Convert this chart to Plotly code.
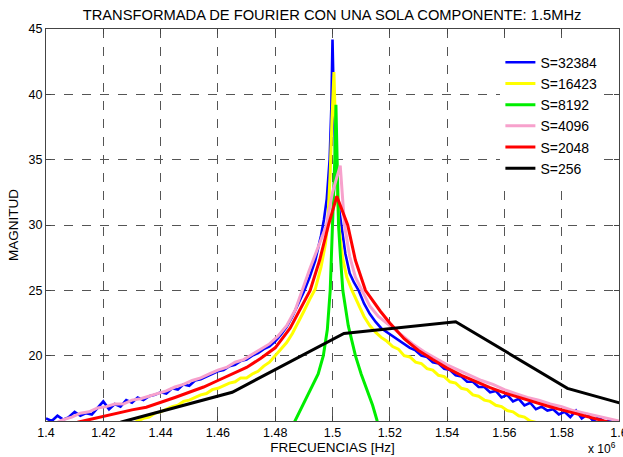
import plotly.graph_objects as go

# ---------------- data (frequency in MHz, magnitude) ----------------
blue_x = [1.400, 1.402, 1.404, 1.406, 1.408, 1.410, 1.412, 1.414, 1.416, 1.418,
          1.420, 1.422, 1.424, 1.426, 1.428, 1.430, 1.432, 1.434, 1.436, 1.438,
          1.440, 1.442, 1.444, 1.446, 1.448, 1.450, 1.452, 1.454, 1.456, 1.458,
          1.460, 1.462, 1.464, 1.466, 1.468, 1.470, 1.472, 1.474, 1.476, 1.478,
          1.480, 1.482, 1.484, 1.486, 1.488, 1.490, 1.492, 1.494, 1.496, 1.497,
          1.498, 1.499, 1.4996, 1.5000, 1.5004, 1.5010, 1.5018, 1.5030, 1.5045, 1.5060,
          1.5075, 1.5091, 1.5110, 1.5130, 1.5150, 1.5170, 1.519, 1.521, 1.523, 1.525,
          1.527, 1.529, 1.531, 1.533, 1.535, 1.537, 1.539, 1.541, 1.543, 1.545,
          1.547, 1.549, 1.551, 1.553, 1.555, 1.557, 1.559, 1.561, 1.563, 1.565,
          1.567, 1.569, 1.571, 1.573, 1.575, 1.577, 1.579, 1.581, 1.583, 1.585,
          1.587, 1.589, 1.591, 1.593, 1.595, 1.597, 1.599, 1.601]
blue_y = [15.2, 15.0, 15.4, 15.1, 15.3, 15.7, 15.4, 15.6, 15.5, 16.0,
          16.5, 15.9, 16.3, 16.1, 16.6, 16.4, 16.8, 16.6, 16.9, 17.0,
          17.2, 17.1, 17.5, 17.4, 17.8, 17.7, 18.1, 18.2, 18.4, 18.6,
          18.8, 18.9, 19.2, 19.3, 19.6, 19.7, 20.0, 20.2, 20.5, 20.7,
          21.1, 21.6, 22.2, 23.0, 23.9, 24.9, 26.0, 27.3, 29.2, 30.4,
          32.0, 35.0, 39.0, 44.2, 40.0, 35.0, 32.0, 30.0, 27.8, 26.3,
          25.6, 25.0, 24.0, 23.2, 22.6, 22.1, 21.8, 21.5, 21.2, 20.9,
          20.6, 20.4, 20.0, 19.9, 19.5, 19.4, 19.0, 18.9, 18.5, 18.4,
          18.0, 18.0, 17.6, 17.6, 17.2, 17.3, 16.8, 17.0, 16.5, 16.7,
          16.2, 16.4, 15.9, 16.1, 15.8, 15.9, 15.5, 15.7, 15.3, 15.8,
          15.2, 15.5, 15.0, 15.3, 14.9, 15.1, 14.8, 14.8]

yellow_x = [1.430, 1.432, 1.434, 1.436, 1.438, 1.440, 1.442, 1.444, 1.446, 1.448,
            1.450, 1.452, 1.454, 1.456, 1.458, 1.460, 1.462, 1.464, 1.466, 1.468,
            1.470, 1.472, 1.474, 1.476, 1.478, 1.480, 1.482, 1.484, 1.486, 1.488,
            1.490, 1.492, 1.494, 1.496, 1.4975, 1.4983, 1.4992, 1.4998, 1.5005, 1.5011,
            1.5016, 1.5022, 1.5035, 1.5050, 1.5068, 1.509, 1.511, 1.513, 1.515, 1.517,
            1.519, 1.521, 1.523, 1.525, 1.527, 1.529, 1.531, 1.533, 1.535, 1.537,
            1.539, 1.541, 1.543, 1.545, 1.547, 1.549, 1.551, 1.553, 1.555, 1.557,
            1.559, 1.561, 1.563, 1.565, 1.567, 1.569, 1.571, 1.573]
yellow_y = [14.8, 15.0, 15.2, 15.3, 15.6, 15.7, 15.9, 16.1, 16.2, 16.5,
            16.6, 16.8, 17.0, 17.1, 17.4, 17.5, 17.7, 17.9, 18.0, 18.3,
            18.3, 18.6, 18.8, 19.2, 19.5, 20.0, 20.5, 21.0, 21.7, 22.5,
            23.4, 24.3, 25.1, 26.8, 28.5, 30.0, 34.0, 38.0, 41.7, 37.0,
            33.0, 30.0, 27.5, 26.0, 25.0, 23.9, 23.0, 22.3, 21.8, 21.4,
            21.1, 20.7, 20.5, 20.0, 19.9, 19.5, 19.4, 19.0, 18.9, 18.5,
            18.4, 18.0, 17.9, 17.5, 17.4, 17.0, 16.9, 16.6, 16.5, 16.2,
            16.1, 15.8, 15.7, 15.4, 15.3, 15.0, 14.9, 14.7]

green_x = [1.4860, 1.4869, 1.4900, 1.4928, 1.4950, 1.4968, 1.4982, 1.4992, 1.5001, 1.5008,
           1.5012, 1.5016, 1.5021, 1.5028, 1.5036, 1.5055, 1.5080, 1.5100, 1.5118, 1.5140,
           1.5156, 1.5162]
green_y = [14.6, 15.0, 16.3, 17.5, 18.6, 20.0, 22.0, 25.0, 30.0, 35.0,
           39.2, 35.0, 30.0, 27.5, 25.0, 22.3, 20.0, 18.6, 17.5, 16.2,
           15.0, 14.6]

pink_x = [1.403, 1.406, 1.409, 1.412, 1.415, 1.418, 1.421, 1.424, 1.427, 1.430,
          1.433, 1.436, 1.439, 1.442, 1.445, 1.448, 1.451, 1.454, 1.457, 1.460,
          1.463, 1.466, 1.469, 1.472, 1.475, 1.478, 1.481, 1.484, 1.487, 1.4893,
          1.492, 1.4955, 1.4979, 1.5000, 1.5027, 1.5042, 1.5060, 1.5080, 1.5103, 1.513,
          1.516, 1.520, 1.524, 1.528, 1.532, 1.536, 1.540, 1.544, 1.548, 1.552,
          1.556, 1.560, 1.564, 1.568, 1.572, 1.576, 1.580, 1.584, 1.588, 1.592,
          1.596, 1.600]
pink_y = [14.8, 15.1, 15.3, 15.6, 15.7, 16.0, 16.1, 16.3, 16.3, 16.6,
          16.7, 16.9, 17.1, 17.3, 17.6, 17.8, 18.1, 18.3, 18.6, 18.9,
          19.1, 19.5, 19.7, 20.1, 20.5, 20.9, 21.5, 22.3, 23.5, 25.0,
          26.6, 28.6, 30.0, 32.5, 34.55, 30.0, 27.6, 26.0, 25.0, 23.8,
          23.0, 22.3, 21.6, 20.9, 20.3, 19.8, 19.3, 18.9, 18.5, 18.1,
          17.8, 17.4, 17.1, 16.8, 16.6, 16.3, 16.1, 15.8, 15.6, 15.4,
          15.2, 15.0]

red_x = [1.411, 1.415, 1.420, 1.425, 1.430, 1.435, 1.440, 1.445, 1.450, 1.455,
         1.460, 1.465, 1.470, 1.475, 1.480, 1.4852, 1.488, 1.4922, 1.4955, 1.4986,
         1.5015, 1.5035, 1.5053, 1.5080, 1.5115, 1.5167, 1.5200, 1.5250, 1.5300, 1.5350,
         1.5400, 1.5450, 1.5500, 1.5550, 1.5600, 1.5650, 1.5700, 1.5750, 1.5800, 1.5850,
         1.5900, 1.5950, 1.6000]
red_y = [14.9, 15.1, 15.4, 15.6, 15.85, 16.05, 16.4, 16.8, 17.2, 17.6,
         18.1, 18.6, 19.1, 19.8, 20.6, 22.1, 23.3, 25.0, 27.3, 30.0,
         32.2, 31.0, 30.0, 27.3, 25.0, 23.4, 22.5, 21.3, 20.4, 19.7,
         19.05, 18.5, 18.0, 17.55, 17.15, 16.8, 16.45, 16.15, 15.85, 15.55,
         15.25, 14.95, 14.7]

black_x = [1.426, 1.465, 1.504, 1.543, 1.582, 1.621]
black_y = [14.9, 17.2, 21.7, 22.6, 17.5, 15.1]

series_names = ["S=32384", "S=16423", "S=8192", "S=4096", "S=2048", "S=256"]
series_colors = ["#0000FF", "#FFFF00", "#00EE00", "#F7A1CC", "#FF0000", "#000000"]

x_tick_vals = [1.40, 1.42, 1.44, 1.46, 1.48, 1.50, 1.52, 1.54, 1.56, 1.58, 1.60]
x_tick_text = ["1.4", "1.42", "1.44", "1.46", "1.48", "1.5", "1.52", "1.54", "1.56", "1.58", "1.6"]
y_tick_vals = [20, 25, 30, 35, 40, 45]

# ---------------- figure ----------------
xs = [blue_x, yellow_x, green_x, pink_x, red_x, black_x]
ys = [blue_y, yellow_y, green_y, pink_y, red_y, black_y]
widths = [2.6, 3, 3, 3, 3, 3]

fig = go.Figure()
for x, y, name, col, w in zip(xs, ys, series_names, series_colors, widths):
    fig.add_trace(go.Scatter(x=x, y=y, mode="lines", name=name,
                             line=dict(color=col, width=w)))

FONT = "Liberation Sans, Arial, sans-serif"
axis_common = dict(
    showline=True, linecolor="#444", linewidth=1, mirror="allticks",
    ticks="inside", ticklen=5, tickcolor="#444",
    showgrid=True, gridcolor="#555", griddash="dash", gridwidth=1,
    zeroline=False, tickfont=dict(family=FONT, size=12.5, color="#000"),
    ticklabeloverflow="allow", automargin=False,
)

fig.update_layout(
    width=623, height=457,
    margin=dict(l=46, r=4, t=29, b=36),
    paper_bgcolor="white", plot_bgcolor="white",
    title=dict(text="TRANSFORMADA DE FOURIER CON UNA SOLA COMPONENTE: 1.5MHz",
               x=0.533, xanchor="center", y=0.968, yanchor="middle",
               font=dict(family=FONT, size=14.7, color="#000")),
    xaxis=dict(range=[1.4, 1.6], tickvals=x_tick_vals, ticktext=x_tick_text,
               title=dict(text="FRECUENCIAS [Hz]", standoff=2,
                          font=dict(family=FONT, size=13.5, color="#000")),
               **axis_common),
    yaxis=dict(range=[15, 45], tickvals=y_tick_vals,
               title=dict(text="MAGNITUD", standoff=6,
                          font=dict(family=FONT, size=13.5, color="#000")),
               **axis_common),
    legend=dict(x=0.793, y=0.955, xanchor="left", yanchor="top",
                bgcolor="white", borderwidth=0,
                font=dict(family=FONT, size=14, color="#000"),
                itemwidth=30, tracegroupgap=0),
    showlegend=True,
)

fig.add_annotation(text="x 10<sup>6</sup>", xref="paper", yref="paper",
                   x=0.998, y=-0.07, xanchor="right", yanchor="middle",
                   showarrow=False, font=dict(family=FONT, size=12, color="#000"))

fig.write_html("out.html")
